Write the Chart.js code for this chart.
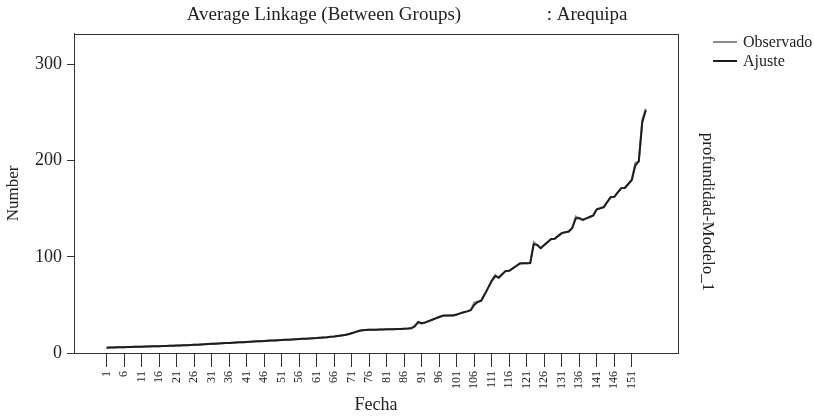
<!DOCTYPE html>
<html>
<head>
<meta charset="utf-8">
<script src="https://cdn.jsdelivr.net/npm/chart.js@4.4.1/dist/chart.umd.min.js"></script>
<style>
  html, body { margin: 0; padding: 0; background: #fff; }
  #wrap { width: 814px; height: 417px; }
</style>
</head>
<body>
<div id="wrap"><canvas id="chart"></canvas></div>
<script>
// Fecha 1..155
const fecha = Array.from({ length: 155 }, (_, i) => i + 1);

const observado = [
    5.5, 5.6, 5.7, 5.9, 6.0, 6.1, 6.2, 6.3, 6.4, 6.5,
    6.6, 6.7, 6.8, 6.9, 7.0, 7.1, 7.2, 7.3, 7.5, 7.6,
    7.7, 7.8, 8.0, 8.1, 8.3, 8.5, 8.7, 8.9, 9.1, 9.3,
    9.5, 9.7, 9.9, 10.1, 10.3, 10.5, 10.7, 10.9, 11.1, 11.3,
    11.5, 11.7, 11.9, 12.1, 12.3, 12.5, 12.7, 12.9, 13.1, 13.3,
    13.5, 13.7, 13.9, 14.1, 14.3, 14.5, 14.7, 14.9, 15.1, 15.3,
    15.5, 15.8, 16.1, 16.4, 16.8, 17.2, 17.7, 18.2, 18.7, 19.5,
    20.6, 21.7, 22.8, 23.6, 24.0, 24.1, 24.2, 24.3, 24.4, 24.5,
    24.6, 24.7, 24.8, 24.9, 25.0, 25.2, 25.4, 25.7, 28.5, 32.5,
    30.5, 31.8, 33.2, 34.6, 36.0, 37.4, 38.8, 38.9, 38.9, 39.0,
    40.0, 41.2, 42.3, 43.3, 44.5, 52.5, 53.5, 54.5, 61.0, 68.0,
    75.0, 81.0, 78.0, 82.0, 85.4, 85.5, 88.0, 90.5, 93.0, 93.4,
    93.4, 93.5, 115.5, 112.0, 109.0, 112.3, 115.5, 118.6, 118.8, 121.8,
    124.7, 125.6, 126.4, 130.0, 142.0, 140.0, 138.5, 140.0, 141.5, 143.0,
    149.5, 150.5, 151.7, 157.0, 162.2, 162.4, 167.0, 171.5, 171.6, 175.8,
    180.0, 197.6, 199.3, 243.0, 254.0
];

const ajuste = [
    5.5, 5.6, 5.7, 5.9, 6.0, 6.1, 6.2, 6.3, 6.4, 6.5,
    6.6, 6.7, 6.8, 6.9, 7.0, 7.1, 7.2, 7.3, 7.5, 7.6,
    7.7, 7.8, 8.0, 8.1, 8.3, 8.5, 8.7, 8.9, 9.1, 9.3,
    9.5, 9.7, 9.9, 10.1, 10.3, 10.5, 10.7, 10.9, 11.1, 11.3,
    11.5, 11.7, 11.9, 12.1, 12.3, 12.5, 12.7, 12.9, 13.1, 13.3,
    13.5, 13.7, 13.9, 14.1, 14.3, 14.5, 14.7, 14.9, 15.1, 15.3,
    15.5, 15.8, 16.1, 16.4, 16.8, 17.2, 17.7, 18.2, 18.7, 19.5,
    20.6, 21.7, 22.8, 23.6, 24.0, 24.1, 24.2, 24.3, 24.4, 24.5,
    24.6, 24.7, 24.8, 24.9, 25.0, 25.2, 25.4, 25.7, 27.5, 32.0,
    31.0, 31.8, 33.2, 34.6, 36.0, 37.4, 38.8, 38.9, 38.9, 39.0,
    40.0, 41.2, 42.3, 43.3, 44.5, 50.0, 53.0, 54.5, 61.0, 68.0,
    75.0, 80.0, 78.5, 82.0, 85.4, 85.5, 88.0, 90.5, 93.0, 93.4,
    93.4, 93.5, 113.0, 112.5, 109.0, 112.3, 115.5, 118.6, 118.8, 121.8,
    124.7, 125.6, 126.4, 130.0, 140.0, 140.5, 138.5, 140.0, 141.5, 143.0,
    149.5, 150.5, 151.7, 157.0, 162.2, 162.4, 167.0, 171.5, 171.6, 175.8,
    180.0, 195.0, 199.3, 240.0, 252.5
];

const xTicks = [1, 6, 11, 16, 21, 26, 31, 36, 41, 46, 51, 56, 61, 66, 71, 76,
    81, 86, 91, 96, 101, 106, 111, 116, 121, 126, 131, 136, 141, 146, 151];
const yTicks = [0, 100, 200, 300];

const serif = "'Liberation Serif', 'DejaVu Serif', serif";
const ink = '#222';

// frame round the plot, legend and the right-hand label
const decor = {
    id: 'decor',
    afterDraw(chart) {
        const { ctx, chartArea: a } = chart;
        ctx.save();
        ctx.strokeStyle = '#333';
        ctx.lineWidth = 1;
        ctx.strokeRect(Math.round(a.left) + 0.5, Math.round(a.top) + 0.5,
            Math.round(a.right - a.left), Math.round(a.bottom - a.top));

        // legend
        ctx.font = '16px ' + serif;
        ctx.textBaseline = 'middle';
        ctx.fillStyle = ink;
        chart.data.datasets.forEach((ds, i) => {
            const y = 42 + i * 19;
            ctx.strokeStyle = ds.borderColor;
            ctx.lineWidth = 2;
            ctx.beginPath();
            ctx.moveTo(713, y);
            ctx.lineTo(737, y);
            ctx.stroke();
            ctx.fillText(ds.label, 743, y + 1);
        });

        // right-hand label
        ctx.translate(707, 212);
        ctx.rotate(Math.PI / 2);
        ctx.textAlign = 'center';
        ctx.font = '17px ' + serif;
        ctx.fillText('profundidad-Modelo_1', 0, 0);
        ctx.restore();
    }
};

new Chart(document.getElementById('chart'), {
    type: 'line',
    data: {
        labels: fecha,
        datasets: [{
            label: 'Observado',
            data: observado,
            borderColor: '#8c8c8c',
            borderWidth: 2,
            pointRadius: 0,
            tension: 0,
            order: 1
        }, {
            label: 'Ajuste',
            data: ajuste,
            borderColor: '#1e1e1e',
            borderWidth: 2,
            pointRadius: 0,
            tension: 0,
            order: 0
        }]
    },
    options: {
        animation: false,
        responsive: true,
        maintainAspectRatio: false,
        layout: { padding: 0 },
        plugins: {
            legend: { display: false },
            tooltip: { enabled: false },
            title: {
                display: true,
                text: 'Average Linkage (Between Groups)                  : Arequipa',
                color: ink,
                font: { family: serif, size: 19, weight: 'normal' },
                padding: { top: 4, bottom: 7 }
            }
        },
        scales: {
            x: {
                type: 'linear',
                min: -8.3,
                max: 164.2,
                afterBuildTicks: (s) => { s.ticks = xTicks.map(v => ({ value: v })); },
                afterFit: (s) => { s.height = 64; },
                ticks: {
                    minRotation: 90,
                    maxRotation: 90,
                    padding: 4,
                    color: ink,
                    font: { family: serif, size: 12 },
                    callback: (v) => String(v)
                },
                grid: { drawOnChartArea: false, drawTicks: true, tickLength: 14, color: '#333' },
                border: { display: true, color: '#333' },
                title: {
                    display: true,
                    text: 'Fecha',
                    color: ink,
                    font: { family: serif, size: 18 },
                    padding: { top: 0, bottom: 1 }
                }
            },
            y: {
                min: 0,
                max: 332,
                afterBuildTicks: (s) => { s.ticks = yTicks.map(v => ({ value: v })); },
                afterFit: (s) => { s.width = 74; },
                ticks: {
                    padding: 5,
                    color: ink,
                    font: { family: serif, size: 18 }
                },
                grid: { drawOnChartArea: false, drawTicks: true, tickLength: 7, color: '#333' },
                border: { display: true, color: '#333' },
                title: {
                    display: true,
                    text: 'Number',
                    color: ink,
                    font: { family: serif, size: 17 },
                    padding: { top: 3, bottom: 0 }
                }
            },
            // empty right-hand column for legend and label
            side: {
                position: 'right',
                display: true,
                afterFit: (s) => { s.width = 136; },
                ticks: { display: false },
                grid: { display: false },
                border: { display: false }
            }
        }
    },
    plugins: [decor]
});
</script>
</body>
</html>
